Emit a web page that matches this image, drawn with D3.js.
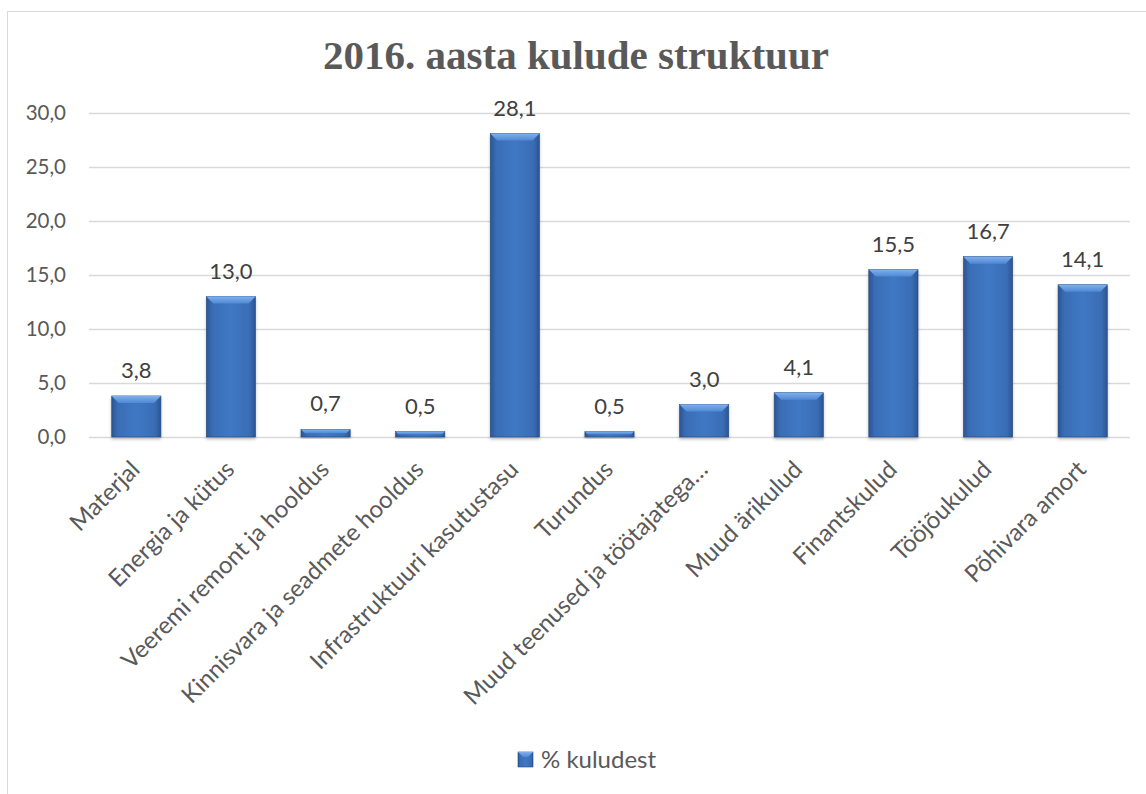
<!DOCTYPE html>
<html lang="et">
<head>
<meta charset="utf-8">
<title>2016. aasta kulude struktuur</title>
<style>
  body { margin: 0; background: #fff; }
  svg { display: block; }
</style>
</head>
<body>
<svg id="chart" width="1146" height="794"></svg>
<script src="https://d3js.org/d3.v7.min.js"></script>
<script>
const categories = [
  "Materjal", "Energia ja kütus", "Veeremi remont ja hooldus",
  "Kinnisvara ja seadmete hooldus", "Infrastruktuuri kasutustasu", "Turundus",
  "Muud teenused ja töötajatega…", "Muud ärikulud", "Finantskulud",
  "Tööjõukulud", "Põhivara amort"
];
const values = [3.8, 13.0, 0.7, 0.5, 28.1, 0.5, 3.0, 4.1, 15.5, 16.7, 14.1];
const yTicks = [0, 5, 10, 15, 20, 25, 30];
const seriesName = "% kuludest";
const chartTitle = "2016. aasta kulude struktuur";

const fmt = d => d.toFixed(1).replace(".", ",");
const font = "Lato, 'Open Sans', sans-serif";

const svg = d3.select("#chart");
const plotLeft = 89, plotRight = 1130, plotTop = 113, plotBase = 437;

// chart frame (right/bottom edges run off the picture)
svg.append("rect")
  .attr("x", 7.5).attr("y", 11.5)
  .attr("width", 1160).attr("height", 800)
  .attr("fill", "#fff").attr("stroke", "#d9d9d9");

const defs = svg.append("defs");
const body = defs.append("linearGradient").attr("id", "barBody")
  .attr("x1", 0).attr("x2", 1).attr("y1", 0).attr("y2", 0);
body.append("stop").attr("offset", "0%").attr("stop-color", "#2a5593");
body.append("stop").attr("offset", "12%").attr("stop-color", "#396db5");
body.append("stop").attr("offset", "50%").attr("stop-color", "#4078c4");
body.append("stop").attr("offset", "88%").attr("stop-color", "#396db5");
body.append("stop").attr("offset", "100%").attr("stop-color", "#2a5593");
const topG = defs.append("linearGradient").attr("id", "barTop")
  .attr("x1", 0).attr("x2", 0).attr("y1", 0).attr("y2", 1);
topG.append("stop").attr("offset", "0%").attr("stop-color", "#7fb0ee");
topG.append("stop").attr("offset", "100%").attr("stop-color", "#4f88d4");
const shadow = defs.append("filter").attr("id", "shadow")
  .attr("x", "-20%").attr("y", "-20%").attr("width", "140%").attr("height", "140%");
shadow.append("feDropShadow").attr("dx", 0).attr("dy", 2)
  .attr("stdDeviation", 1.5).attr("flood-color", "#000").attr("flood-opacity", 0.25);

const x = d3.scaleBand()
  .domain(categories)
  .range([plotLeft, plotRight])
  .paddingInner(0.48).paddingOuter(0.24);

const y = d3.scaleLinear()
  .domain([0, 30])
  .range([plotBase, plotTop]);

// gridlines + y labels
const yAxis = d3.axisLeft(y)
  .tickValues(yTicks)
  .tickFormat(fmt)
  .tickSize(-(plotRight - plotLeft))
  .tickPadding(23);
const gy = svg.append("g")
  .attr("transform", `translate(${plotLeft},0)`)
  .call(yAxis);
gy.select(".domain").remove();
gy.selectAll(".tick line").attr("stroke", "#d9d9d9").attr("stroke-width", 1.3);
gy.selectAll(".tick text")
  .attr("fill", "#595959")
  .attr("font-size", 20.5)
  .attr("font-family", font);

// bars
const rows = categories.map((c, i) => ({c, v: values[i]}));
const bars = svg.append("g").selectAll("g.bar")
  .data(rows)
  .join("g").attr("class", "bar")
  .attr("filter", "url(#shadow)");

bars.append("rect")
  .attr("x", d => x(d.c))
  .attr("y", d => y(d.v))
  .attr("width", x.bandwidth())
  .attr("height", d => y(0) - y(d.v))
  .attr("fill", "url(#barBody)")
  .attr("stroke", "#23497f")
  .attr("stroke-width", 0.6);

// bevelled top
bars.append("path")
  .attr("fill", "url(#barTop)")
  .attr("d", d => {
    const x0 = x(d.c), w = x.bandwidth(), y0 = y(d.v);
    const b = Math.min(7, (y(0) - y0) / 2);
    return `M${x0},${y0}L${x0 + w},${y0}L${x0 + w - b},${y0 + b}L${x0 + b},${y0 + b}Z`;
  });

// value labels
svg.append("g").selectAll("text")
  .data(rows)
  .join("text")
  .attr("x", d => x(d.c) + x.bandwidth() / 2)
  .attr("y", d => y(d.v) - 18)
  .attr("text-anchor", "middle")
  .attr("fill", "#404040")
  .attr("font-size", 22)
  .attr("font-family", font)
  .text(d => fmt(d.v));

// x labels
svg.append("g").selectAll("text")
  .data(categories)
  .join("text")
  .attr("transform", d => `translate(${x(d) + x.bandwidth() / 2 + 5},471) rotate(-45)`)
  .attr("text-anchor", "end")
  .attr("fill", "#595959")
  .attr("font-size", 24)
  .attr("font-family", font)
  .text(d => d);

// title
svg.append("text")
  .attr("x", 576).attr("y", 69)
  .attr("text-anchor", "middle")
  .attr("font-family", "'Liberation Serif', 'Times New Roman', serif")
  .attr("font-weight", "bold")
  .attr("font-size", 41)
  .attr("fill", "#595959")
  .text(chartTitle);

// legend
const lg = svg.append("g").attr("transform", "translate(518,752)");
lg.append("rect").attr("width", 15).attr("height", 15)
  .attr("fill", "url(#barBody)").attr("stroke", "#23497f").attr("stroke-width", 0.6);
lg.append("path").attr("d", "M0,0L15,0L10,5L5,5Z").attr("fill", "url(#barTop)");
lg.append("text").attr("x", 23).attr("y", 16)
  .attr("fill", "#595959")
  .attr("font-size", 24)
  .attr("font-family", font)
  .text(seriesName);
</script>
</body>
</html>
